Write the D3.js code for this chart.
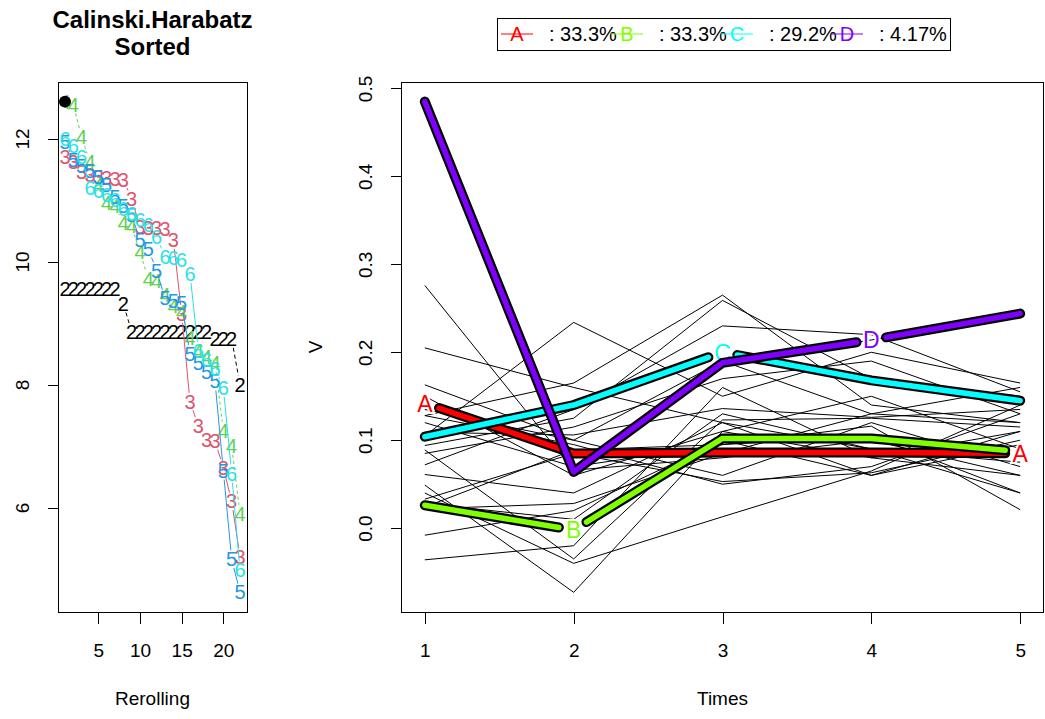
<!DOCTYPE html>
<html>
<head>
<meta charset="utf-8">
<script src="https://cdn.jsdelivr.net/npm/d3@7"></script>
<style>
  body { margin: 0; background: #fff; }
  text { font-family: "Liberation Sans", Arial, sans-serif; }
</style>
</head>
<body>
<svg id="vis"></svg>
<script>
    // ---------- data: left panel (sorted Calinski.Harabatz by number of clusters) ----------
    const rerolling = d3.range(1, 23)
    const nbClusters = ["2", "3", "4", "5", "6"]
    const nbColors = ["#000000", "#DF536B", "#61D04F", "#2297E6", "#28E2E5"]
    const nbDash = ["4,3", null, "3,3", null, null]
    const ch2 = [9.55, 9.55, 9.55, 9.55, 9.55, 9.55, 9.55, 9.31, 8.86, 8.86, 8.86, 8.86, 8.86, 8.86, 8.86, 8.86, 8.86, 8.86, 8.74, 8.74, 8.74, 8.00]
    const ch3 = [11.70, 11.62, 11.45, 11.40, 11.38, 11.36, 11.35, 11.33, 11.02, 10.56, 10.55, 10.54, 10.53, 10.35, 9.15, 7.72, 7.33, 7.10, 7.08, 6.65, 6.10, 5.20]
    const ch4 = [12.60, 12.55, 12.02, 11.62, 11.25, 10.95, 10.90, 10.62, 10.58, 10.15, 9.72, 9.68, 9.45, 9.28, 9.18, 8.75, 8.55, 8.45, 8.35, 7.25, 7.00, 5.90]
    const ch5 = [11.95, 11.65, 11.55, 11.48, 11.38, 11.25, 11.05, 10.90, 10.75, 10.35, 10.20, 9.85, 9.40, 9.35, 9.32, 8.50, 8.35, 8.20, 8.05, 6.60, 5.16, 4.62]
    const ch6 = [12.00, 11.88, 11.70, 11.20, 11.15, 11.08, 11.00, 10.85, 10.78, 10.68, 10.60, 10.40, 10.08, 10.05, 10.02, 9.80, 8.55, 8.40, 8.25, 7.95, 6.55, 4.98]
    const chSeries = [ch2, ch3, ch4, ch5, ch6]
    const bestPoint = { rerolling: 1, value: 12.60 }
    const chTicksX = [5, 10, 15, 20]
    const chTicksY = [6, 8, 10, 12]

    // ---------- data: right panel (trajectories and cluster means) ----------
    const times = [1, 2, 3, 4, 5]
    const trajA = [
        [0.276, 0.066, 0.080, 0.100, 0.060],
        [0.205, 0.160, 0.120, 0.060, 0.095],
        [0.163, 0.100, 0.060, 0.120, 0.070],
        [0.150, 0.060, 0.110, 0.080, 0.110],
        [0.128, 0.095, 0.050, 0.070, 0.130],
        [0.120, 0.070, 0.095, 0.105, 0.040],
        [0.061, 0.040, 0.120, 0.090, 0.075],
        [0.033, 0.085, 0.053, 0.063, 0.100]
    ]
    const trajB = [
        [0.049, -0.073, 0.110, 0.150, 0.090],
        [0.040, -0.040, 0.013, 0.065, 0.140],
        [0.028, 0.010, 0.130, 0.090, 0.040],
        [0.022, 0.028, 0.085, 0.130, 0.120],
        [-0.036, -0.020, 0.160, 0.080, 0.060],
        [-0.008, 0.020, 0.100, 0.060, 0.110],
        [0.089, -0.035, 0.123, 0.125, 0.115],
        [0.024, 0.089, 0.095, 0.116, 0.021]
    ]
    const trajC = [
        [0.105, 0.234, 0.150, 0.200, 0.165],
        [0.128, 0.165, 0.265, 0.140, 0.120],
        [0.094, 0.125, 0.259, 0.170, 0.150],
        [0.072, 0.135, 0.230, 0.220, 0.155],
        [0.135, 0.100, 0.190, 0.130, 0.160],
        [0.085, 0.115, 0.170, 0.190, 0.130],
        [0.109, 0.106, 0.136, 0.126, 0.135]
    ]
    const trajD = [
        [0.485, 0.064, 0.188, 0.214, 0.244]
    ]
    const clusterNames = ["A", "B", "C", "D"]
    const clusterColors = ["#FF0000", "#80FF00", "#00FFFF", "#8000FF"]
    const clusterShares = ["33.3%", "33.3%", "29.2%", "4.17%"]
    const meanA = [0.142, 0.085, 0.086, 0.086, 0.085]
    const meanB = [0.026, -0.002, 0.102, 0.102, 0.087]
    const meanC = [0.104, 0.140, 0.200, 0.168, 0.145]
    const meanD = [0.485, 0.064, 0.188, 0.214, 0.244]
    const means = [meanA, meanB, meanC, meanD]
    const letterTimes = [[1, 5], [2], [3], [4]]
    const gapTimes = [[1, 5], [2, 5], [3], [4]]
    const vTicks = [0, 0.1, 0.2, 0.3, 0.4, 0.5]

    // ---------- helpers ----------
    // R style range padding (4% each side)
    function rPad(ext) {
        const d = (ext[1] - ext[0]) * 0.04
        return [ext[0] - d, ext[1] + d]
    }

    // split a polyline into pieces that stop short of the points listed in gapIdx
    function pieces(pts, gapIdx, gap) {
        const out = []
        let cur = []
        for (let i = 0; i < pts.length - 1; i++) {
            const p = pts[i], q = pts[i + 1]
            const dx = q[0] - p[0], dy = q[1] - p[1]
            const d = Math.hypot(dx, dy)
            const ux = dx / d, uy = dy / d
            const gi = gapIdx.includes(i), gj = gapIdx.includes(i + 1)
            if ((gi ? gap : 0) + (gj ? gap : 0) >= d) { if (cur.length > 1) out.push(cur); cur = []; continue }
            const a = gi ? [p[0] + ux * gap, p[1] + uy * gap] : p
            const b = gj ? [q[0] - ux * gap, q[1] - uy * gap] : q
            if (cur.length === 0) cur.push(a)
            cur.push(b)
            if (gj) { out.push(cur); cur = [] }
        }
        if (cur.length > 1) out.push(cur)
        return out
    }

    const svg = d3.select('#vis')
        .attr('width', 1045)
        .attr('height', 719)

    const lineGen = d3.line()
    const tickFont = '19px'

    function styleAxis(g, rotate, offset) {
        g.select('.domain').remove()
        g.selectAll('.tick line').attr('stroke', '#000').attr('shape-rendering', 'crispEdges')
        g.selectAll('.tick text')
            .attr('fill', '#000')
            .style('font-size', tickFont)
        if (rotate) {
            g.selectAll('.tick text')
                .attr('x', null).attr('dy', '0.35em')
                .attr('text-anchor', 'middle')
                .attr('transform', 'translate(' + (-offset) + ',0) rotate(-90)')
        } else {
            g.selectAll('.tick text').attr('y', offset).attr('dy', '0.35em')
        }
    }

    // ================= left panel =================
    const L = { left: 58, right: 247, top: 82, bottom: 612 }
    const xL = d3.scaleLinear()
        .domain(rPad(d3.extent(rerolling)))
        .range([L.left, L.right])
    const yL = d3.scaleLinear()
        .domain(rPad(d3.extent(chSeries.flat())))
        .range([L.bottom, L.top])

    svg.append('text')
        .attr('x', (L.left + L.right) / 2).attr('y', 28)
        .attr('text-anchor', 'middle')
        .style('font-size', '24px').style('font-weight', 'bold')
        .text('Calinski.Harabatz')
    svg.append('text')
        .attr('x', (L.left + L.right) / 2).attr('y', 55)
        .attr('text-anchor', 'middle')
        .style('font-size', '24px').style('font-weight', 'bold')
        .text('Sorted')

    const leftPlot = svg.append('g')

    chSeries.forEach(function (values, s) {
        const pts = values.map(function (v, i) { return [xL(rerolling[i]), yL(v)] })
        const segs = pieces(pts, d3.range(pts.length), 9)
        leftPlot.selectAll(null)
            .data(segs)
            .enter().append('path')
            .attr('d', lineGen)
            .attr('fill', 'none')
            .attr('stroke', nbColors[s])
            .attr('stroke-width', 1)
            .attr('stroke-dasharray', nbDash[s])
        leftPlot.selectAll(null)
            .data(values)
            .enter().append('text')
            .attr('x', function (d, i) { return xL(rerolling[i]) })
            .attr('y', function (d) { return yL(d) })
            .attr('dy', '0.35em')
            .attr('text-anchor', 'middle')
            .attr('fill', nbColors[s])
            .style('font-size', '20px')
            .text(nbClusters[s])
    })

    leftPlot.append('circle')
        .attr('cx', xL(bestPoint.rerolling))
        .attr('cy', yL(bestPoint.value))
        .attr('r', 6)
        .attr('fill', '#000')

    svg.append('rect')
        .attr('x', L.left + 0.5).attr('y', L.top + 0.5)
        .attr('width', L.right - L.left).attr('height', L.bottom - L.top)
        .attr('fill', 'none').attr('stroke', '#000')
        .attr('shape-rendering', 'crispEdges')

    svg.append('g')
        .attr('transform', 'translate(0,' + (L.bottom + 0.5) + ')')
        .call(d3.axisBottom(xL).tickValues(chTicksX).tickSize(11).tickFormat(d3.format('d')))
        .call(styleAxis, false, 38)
    svg.append('g')
        .attr('transform', 'translate(' + (L.left + 0.5) + ',0)')
        .call(d3.axisLeft(yL).tickValues(chTicksY).tickSize(11).tickFormat(d3.format('d')))
        .call(styleAxis, true, 36)

    svg.append('text')
        .attr('x', (L.left + L.right) / 2).attr('y', 705)
        .attr('text-anchor', 'middle')
        .style('font-size', tickFont)
        .text('Rerolling')

    // ================= right panel =================
    const R = { left: 401, right: 1044, top: 82, bottom: 612 }
    const allTraj = trajA.concat(trajB, trajC, trajD)
    const xR = d3.scaleLinear()
        .domain(rPad(d3.extent(times)))
        .range([R.left, R.right])
    const yR = d3.scaleLinear()
        .domain(rPad(d3.extent(allTraj.flat().concat(means.flat()))))
        .range([R.bottom, R.top])

    const rightPlot = svg.append('g')

    // individual trajectories
    rightPlot.selectAll('.traj')
        .data(allTraj)
        .enter().append('path')
        .attr('class', 'traj')
        .attr('d', function (d) { return lineGen(d.map(function (v, i) { return [xR(times[i]), yR(v)] })) })
        .attr('fill', 'none')
        .attr('stroke', '#000')
        .attr('stroke-width', 1)

    // cluster means
    means.forEach(function (values, c) {
        const pts = values.map(function (v, i) { return [xR(times[i]), yR(v)] })
        const gapIdx = gapTimes[c].map(function (t) { return times.indexOf(t) })
        const segs = pieces(pts, gapIdx, 15)
        const g = rightPlot.append('g')
        g.selectAll(null).data(segs).enter().append('path')
            .attr('d', lineGen)
            .attr('fill', 'none')
            .attr('stroke', '#000')
            .attr('stroke-width', 10)
            .attr('stroke-linejoin', 'round')
            .attr('stroke-linecap', 'round')
        g.selectAll(null).data(segs).enter().append('path')
            .attr('d', lineGen)
            .attr('fill', 'none')
            .attr('stroke', clusterColors[c])
            .attr('stroke-width', 5.5)
            .attr('stroke-linejoin', 'round')
            .attr('stroke-linecap', 'round')
        g.selectAll(null).data(letterTimes[c]).enter().append('text')
            .attr('x', function (t) { return xR(t) })
            .attr('y', function (t) { return yR(values[times.indexOf(t)]) })
            .attr('dy', '0.36em')
            .attr('text-anchor', 'middle')
            .attr('fill', clusterColors[c])
            .attr('stroke', '#fff')
            .attr('stroke-width', 4)
            .attr('paint-order', 'stroke')
            .style('font-size', '23px')
            .text(clusterNames[c])
    })

    svg.append('rect')
        .attr('x', R.left + 0.5).attr('y', R.top + 0.5)
        .attr('width', R.right - R.left - 1).attr('height', R.bottom - R.top)
        .attr('fill', 'none').attr('stroke', '#000')
        .attr('shape-rendering', 'crispEdges')

    svg.append('g')
        .attr('transform', 'translate(0,' + (R.bottom + 0.5) + ')')
        .call(d3.axisBottom(xR).tickValues(times).tickSize(11).tickFormat(d3.format('d')))
        .call(styleAxis, false, 38)
    svg.append('g')
        .attr('transform', 'translate(' + (R.left + 0.5) + ',0)')
        .call(d3.axisLeft(yR).tickValues(vTicks).tickSize(11).tickFormat(d3.format('.1f')))
        .call(styleAxis, true, 36)

    svg.append('text')
        .attr('x', (R.left + R.right) / 2).attr('y', 705)
        .attr('text-anchor', 'middle')
        .style('font-size', tickFont)
        .text('Times')
    svg.append('text')
        .attr('transform', 'translate(322,' + (R.top + R.bottom) / 2 + ') rotate(-90)')
        .attr('text-anchor', 'middle')
        .style('font-size', tickFont)
        .text('V')

    // legend
    const legend = svg.append('g')
    legend.append('rect')
        .attr('x', 497.5).attr('y', 18.5)
        .attr('width', 453).attr('height', 32)
        .attr('fill', '#fff').attr('stroke', '#000')
        .attr('shape-rendering', 'crispEdges')
    const item = legend.selectAll('.item')
        .data(clusterNames)
        .enter().append('g')
        .attr('transform', function (d, i) { return 'translate(' + (517 + i * 110) + ',34)' })
    item.append('line')
        .attr('x1', -16).attr('x2', 16)
        .attr('stroke', function (d, i) { return clusterColors[i] })
        .attr('stroke-width', 1)
    item.append('text')
        .attr('dy', '0.36em')
        .attr('text-anchor', 'middle')
        .attr('fill', function (d, i) { return clusterColors[i] })
        .style('font-size', '20px')
        .text(function (d) { return d })
    item.append('text')
        .attr('x', 32)
        .attr('dy', '0.36em')
        .style('font-size', '20px')
        .text(function (d, i) { return ': ' + clusterShares[i] })
</script>
</body>
</html>
